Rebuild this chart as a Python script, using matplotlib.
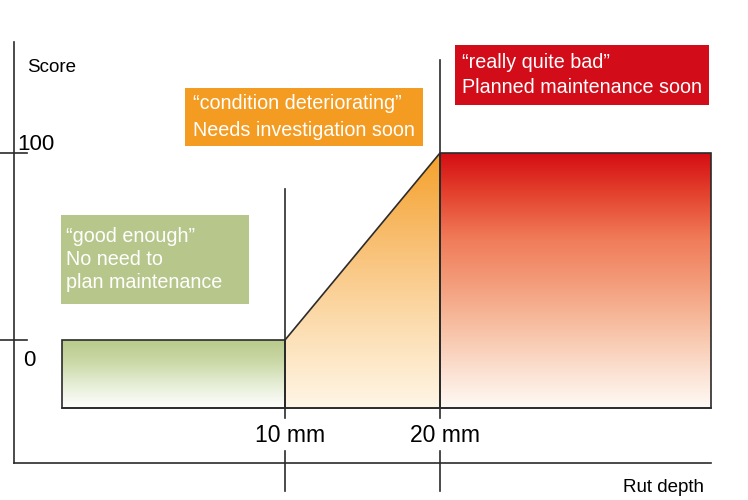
import numpy as np
import matplotlib.pyplot as plt
from matplotlib.colors import LinearSegmentedColormap
from matplotlib.patches import Polygon, Rectangle

plt.rcParams['font.family'] = ['Liberation Sans', 'DejaVu Sans']

# DATA
thresholds_mm = [10, 20]
threshold_labels = ['10 mm', '20 mm']
score_ticks = [100, 0]
score_tick_labels = ['100', '0']
# schematic score profile: flat, ramp, flat
profile_mm = [-4.4, 10, 20, 37.5]
profile_score = [0, 0, 100, 100]
baseline = -36.4  # bottom edge of the shaded zones

zone_texts = ['\u201cgood enough\u201d\nNo need to\nplan maintenance',
              '\u201ccondition deteriorating\u201d\nNeeds investigation soon',
              '\u201creally quite bad\u201d\nPlanned maintenance soon']
zone_box_colors = ['#b7c78b', '#f49c22', '#d20d19']
zone_gradients = [
    ['#b8c98a', '#cbd9a8', '#e6eed6', '#ffffff'],
    ['#f5a12a', '#f8bd6e', '#fcdcae', '#fff6e6'],
    ['#d40c12', '#e4442f', '#f07a58', '#f39a78', '#f7bc9f', '#fbdccb', '#fffaf6'],
]

# figure in pixel terms: 748x500
W, H = 748, 500
fig = plt.figure(figsize=(W / 100, H / 100), dpi=100)
ax = fig.add_axes([0, 0, 1, 1])
ax.axis('off')

# mapping of the schematic: x mm -> pixel, score -> pixel
X0, MMPX = 130, 15.5
Y0, SCPX = 340, 1.87


def px(p, r):
    return (p - X0) / MMPX, (Y0 - r) / SCPX


ax.set_xlim(px(0, 0)[0], px(W, 0)[0])
ax.set_ylim(px(0, H)[1], px(0, 0)[1])

LC = '#2b2b2b'

# shaded zones with vertical gradients
for i in range(3):
    xa, xb = profile_mm[i], profile_mm[i + 1]
    ya, yb = profile_score[i], profile_score[i + 1]
    top = max(ya, yb)
    poly = Polygon([(xa, baseline), (xa, ya), (xb, yb), (xb, baseline)],
                   closed=True, facecolor='none', edgecolor=LC, lw=1.2, zorder=3)
    ax.add_patch(poly)
    cmap = LinearSegmentedColormap.from_list('z%d' % i, zone_gradients[i])
    grad = np.linspace(0, 1, 256).reshape(-1, 1)
    im = ax.imshow(grad, cmap=cmap, extent=[xa, xb, baseline, top],
                   origin='upper', aspect='auto', interpolation='bicubic', zorder=2)
    im.set_clip_path(poly)

# bottom line of zones runs the full width
ax.plot([profile_mm[0], profile_mm[-1]], [baseline, baseline], color=LC, lw=1.2, zorder=3)

# axes
x_l, y_top = px(14, 42)
x_r, y_bot = px(711, 463)
ax.plot([x_l, x_l], [y_top, y_bot], color=LC, lw=1.2)
ax.plot([x_l, x_r], [y_bot, y_bot], color=LC, lw=1.2)

# score ticks
for s, lab in zip(score_ticks, score_tick_labels):
    ax.plot([px(0, 0)[0], px(27, 0)[0]], [s, s], color=LC, lw=1.2)
ax.text(*px(17, 145), score_tick_labels[0], fontsize=16, ha='left', va='center')
ax.text(*px(23, 361), score_tick_labels[1], fontsize=16, ha='left', va='center')

# thresholds
line_tops = [px(0, 189)[1], px(0, 60)[1]]
for t, lab, yt in zip(thresholds_mm, threshold_labels, line_tops):
    ax.plot([t, t], [yt, px(0, 418)[1]], color=LC, lw=1.2, zorder=4)
    ax.plot([t, t], [px(0, 451)[1], px(0, 491)[1]], color=LC, lw=1.2, zorder=4)
    ax.text(t + 0.3, px(0, 435)[1], lab, fontsize=16.5, ha='center', va='center')

ax.text(*px(27, 68), 'Score', fontsize=13.5, ha='left', va='center')
ax.text(*px(704, 487), 'Rut depth', fontsize=13.5, ha='right', va='center')

# label boxes (pixel boxes)
boxes = [(61, 215, 249, 304, 66, 1.26),
         (185, 88, 423, 146, 193, 1.47),
         (455, 45, 709, 105, 462, 1.38)]
for (p0, r0, p1, r1, pt, ls), txt, col in zip(boxes, zone_texts, zone_box_colors):
    xa, ya = px(p0, r1)
    xb, yb = px(p1, r0)
    ax.add_patch(Rectangle((xa, ya), xb - xa, yb - ya, facecolor=col,
                           edgecolor='none', zorder=5))
    ax.text(px(pt, 0)[0], (ya + yb) / 2, txt, fontsize=14.2, color='white',
            ha='left', va='center', linespacing=ls, zorder=6)

fig.savefig('out.png', dpi=100)
